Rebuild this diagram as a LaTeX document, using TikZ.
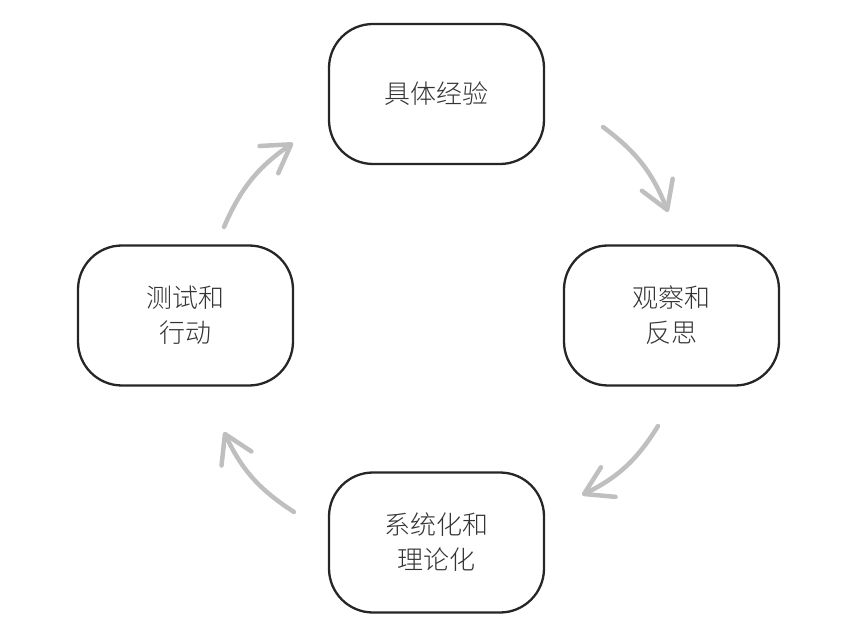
\documentclass[tikz,border=0pt]{standalone}
\usepackage{fontspec}
\usetikzlibrary{arrows.meta}
\newfontfamily\cjk[UprightFont={* Light}]{Noto Sans CJK SC}

\begin{document}
\begin{tikzpicture}[x=1pt,y=1pt,
    stage/.style={draw=black!85, line width=2.3pt, rounded corners=44pt,
        minimum width=215pt, minimum height=140pt, align=center,
        font=\cjk\fontsize{26pt}{35pt}\selectfont, text=black!80},
    cycle/.style={draw=black!25, line width=4.5pt, line cap=round,
        -{Straight Barb[length=27pt,width=33pt,round]}, bend left=16}]
    \useasboundingbox (0,0) rectangle (856,635);
    \node [stage] (exp) at (436.5,541) {具体经验};
    \node [stage] (obs) at (671.5,319.5) {观察和\\反思};
    \node [stage] (abs) at (436.5,92.5) {系统化和\\理论化};
    \node [stage] (act) at (185.5,319.5) {测试和\\行动};
    % arrows between the stages
    \coordinate (exp-out) at (603,508);  \coordinate (obs-in) at (668,423);
    \coordinate (obs-out) at (658,209);  \coordinate (abs-in) at (582,140);
    \coordinate (abs-out) at (294,123);  \coordinate (act-in) at (224,203);
    \coordinate (act-out) at (224,408);  \coordinate (exp-in) at (293,492);
    \draw [cycle] (exp-out) to (obs-in);
    \draw [cycle] (obs-out) to (abs-in);
    \draw [cycle] (abs-out) to (act-in);
    \draw [cycle] (act-out) to (exp-in);
\end{tikzpicture}
\end{document}
